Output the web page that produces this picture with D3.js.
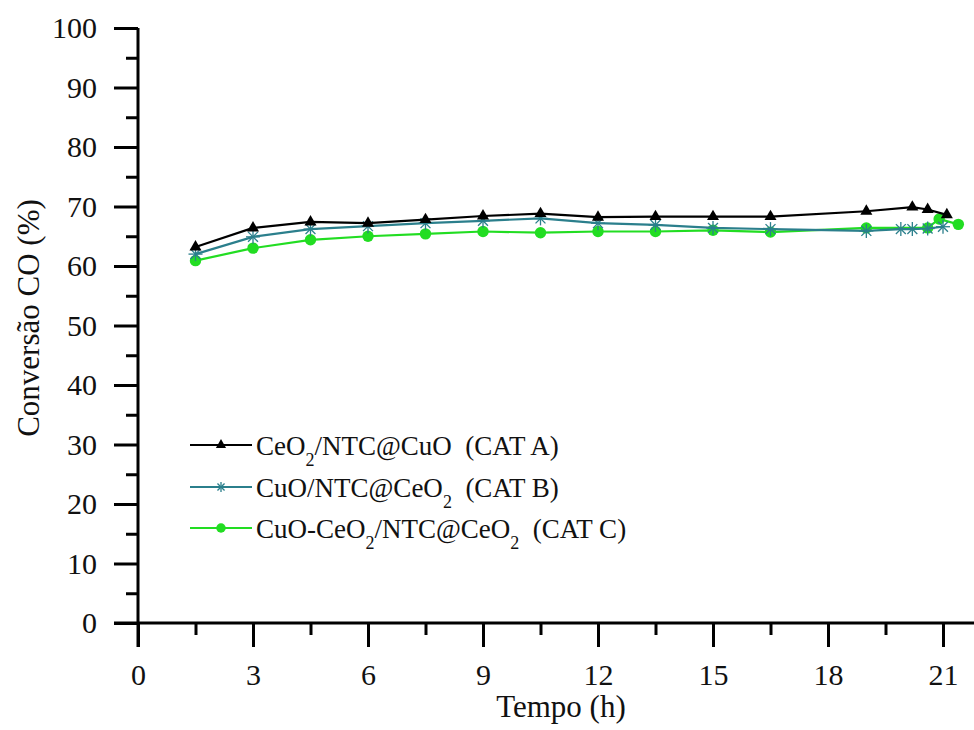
<!DOCTYPE html>
<html>
<head>
<meta charset="utf-8">
<script src="https://cdn.jsdelivr.net/npm/d3@7"></script>
<style>
  html, body { margin: 0; padding: 0; background: #fff; }
  svg { display: block; }
  svg text { font-family: "Liberation Serif", "Times New Roman", serif; fill: #111; white-space: pre; }
</style>
</head>
<body>
<svg id="chart" width="974" height="730"></svg>
<script>
// CO conversion over time for three catalysts
const timeA = [1.5, 3, 4.5, 6, 7.5, 9, 10.5, 12, 13.5, 15, 16.5, 19, 20.2, 20.6, 21.1];
const convA = [63.2, 66.4, 67.4, 67.2, 67.8, 68.4, 68.8, 68.2, 68.3, 68.3, 68.3, 69.2, 69.9, 69.5, 68.6];

const timeB = [1.5, 3, 4.5, 6, 7.5, 9, 10.5, 12, 13.5, 15, 16.5, 19, 19.9, 20.2, 20.6, 21];
const convB = [62.0, 64.9, 66.2, 66.7, 67.2, 67.6, 68.0, 67.2, 66.9, 66.4, 66.2, 65.9, 66.2, 66.2, 66.3, 66.6];

const timeC = [1.5, 3, 4.5, 6, 7.5, 9, 10.5, 12, 13.5, 15, 16.5, 19, 20.6, 20.9, 21.4];
const convC = [60.9, 63.0, 64.4, 65.0, 65.4, 65.8, 65.6, 65.8, 65.8, 66.0, 65.7, 66.4, 66.4, 67.9, 67.0];

const xTicks = [0, 3, 6, 9, 12, 15, 18, 21];
const yTicks = [0, 10, 20, 30, 40, 50, 60, 70, 80, 90, 100];

const series = [
  { key: "A", t: timeA, v: convA, color: "#000000", marker: "triangle",
    label: [["CeO", ""], ["2", "sub"], ["/NTC@CuO  (CAT A)", ""]] },
  { key: "B", t: timeB, v: convB, color: "#2b7f8c", marker: "asterisk",
    label: [["CuO/NTC@CeO", ""], ["2", "sub"], ["  (CAT B)", ""]] },
  { key: "C", t: timeC, v: convC, color: "#22dd22", marker: "circle",
    label: [["CuO-CeO", ""], ["2", "sub"], ["/NTC@CeO", ""], ["2", "sub"], ["  (CAT C)", ""]] }
];

const svg = d3.select("#chart");
const x0 = 138, y0 = 623, yTop = 28;
const x = d3.scaleLinear().domain([0, 21]).range([x0, 943]);
const y = d3.scaleLinear().domain([0, 100]).range([y0, yTop]);

// minor ticks
svg.append("g").attr("transform", `translate(0,${y0})`)
  .call(d3.axisBottom(x).tickValues(d3.range(1.5, 22, 3)).tickSize(12).tickFormat(""))
  .call(g => g.select(".domain").remove())
  .call(g => g.selectAll("line").attr("stroke", "#000").attr("stroke-width", 3));
svg.append("g").attr("transform", `translate(${x0},0)`)
  .call(d3.axisLeft(y).tickValues(d3.range(5, 100, 10)).tickSize(12).tickFormat(""))
  .call(g => g.select(".domain").remove())
  .call(g => g.selectAll("line").attr("stroke", "#000").attr("stroke-width", 3));

// major axes
const gx = svg.append("g").attr("transform", `translate(0,${y0})`)
  .call(d3.axisBottom(x).tickValues(xTicks).tickSize(24).tickSizeOuter(0).tickPadding(17));
gx.attr("font-family", null);
gx.select(".domain").remove();
gx.selectAll("line").attr("stroke", "#000").attr("stroke-width", 3);
gx.selectAll("text").attr("font-size", 30);

const gy = svg.append("g").attr("transform", `translate(${x0},0)`)
  .call(d3.axisLeft(y).tickValues(yTicks).tickSize(24).tickSizeOuter(0).tickPadding(17));
gy.attr("font-family", null);
gy.select(".domain").remove();
gy.selectAll("line").attr("stroke", "#000").attr("stroke-width", 3);
gy.selectAll("text").attr("font-size", 30);

// axis lines
svg.append("line").attr("x1", x0 - 24).attr("x2", 974).attr("y1", y0).attr("y2", y0)
  .attr("stroke", "#000").attr("stroke-width", 3);
svg.append("line").attr("x1", x0).attr("x2", x0).attr("y1", yTop).attr("y2", y0 + 24)
  .attr("stroke", "#000").attr("stroke-width", 3);

// axis titles
svg.append("text").attr("x", 561).attr("y", 717).attr("text-anchor", "middle")
  .attr("font-size", 31).text("Tempo (h)");
svg.append("text").attr("transform", "translate(39,318) rotate(-90)").attr("text-anchor", "middle")
  .attr("font-size", 31).text("Conversão CO (%)");

// markers
function drawMarker(g, type, cx, cy, color, s) {
  if (type === "triangle") {
    g.append("path").attr("d", d3.symbol(d3.symbolTriangle, s * 9)())
      .attr("transform", `translate(${cx},${cy})`).attr("fill", color);
  } else if (type === "circle") {
    g.append("circle").attr("cx", cx).attr("cy", cy).attr("r", s * 0.95).attr("fill", color);
  } else {
    const r = s * 1.0;
    for (let k = 0; k < 4; k++) {
      const a = k * Math.PI / 4;
      g.append("line")
        .attr("x1", cx - r * Math.cos(a)).attr("y1", cy - r * Math.sin(a))
        .attr("x2", cx + r * Math.cos(a)).attr("y2", cy + r * Math.sin(a))
        .attr("stroke", color).attr("stroke-width", 1.3);
    }
  }
}

const line = d3.line().x(d => x(d[0])).y(d => y(d[1]));
// draw C first so A sits on top
[series[2], series[1], series[0]].forEach(s => {
  const pts = s.t.map((t, i) => [t, s.v[i]]);
  const g = svg.append("g");
  g.append("path").datum(pts).attr("d", line).attr("fill", "none")
    .attr("stroke", s.color).attr("stroke-width", 2.2);
  pts.forEach(p => drawMarker(g, s.marker, x(p[0]), y(p[1]), s.color,
    s.marker === "circle" ? 6 : 7));
});

// legend
const legendY = [445, 487, 528];
series.forEach((s, i) => {
  const g = svg.append("g");
  const ly = legendY[i];
  g.append("line").attr("x1", 190).attr("x2", 252).attr("y1", ly).attr("y2", ly)
    .attr("stroke", s.color).attr("stroke-width", 2);
  drawMarker(g, s.marker, 221, ly, s.color, s.marker === "circle" ? 5 : 5);
  const t = g.append("text").attr("x", 256).attr("y", ly + 10).attr("font-size", 27);
  let prevSub = false;
  s.label.forEach(([str, kind]) => {
    const ts = t.append("tspan").text(str);
    if (kind === "sub") { ts.attr("font-size", 18).attr("dy", 11); prevSub = true; }
    else if (prevSub) { ts.attr("dy", -11); prevSub = false; }
  });
});
</script>
</body>
</html>
